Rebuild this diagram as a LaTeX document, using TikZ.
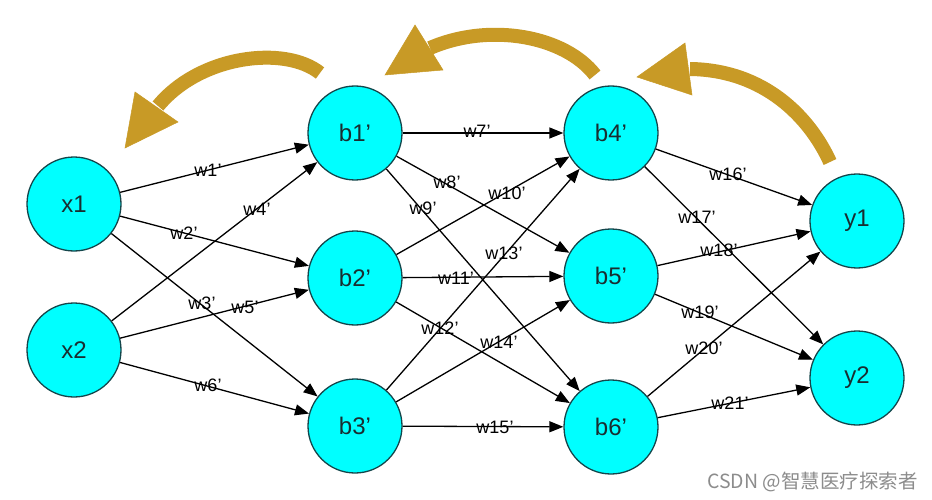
\documentclass[tikz,border=0pt]{standalone}
\usepackage{fontspec}
\setmainfont{Liberation Sans}
\newfontfamily\cjkfont{Noto Sans CJK SC}
\usetikzlibrary{arrows.meta}
\definecolor{nodefill}{RGB}{0,255,255}
\definecolor{nodeline}{RGB}{20,70,75}
\definecolor{nodetext}{RGB}{25,45,48}
\definecolor{gold}{RGB}{200,154,38}
\definecolor{wm}{RGB}{140,140,140}
\tikzset{
  neuron/.style={circle, draw=nodeline, fill=nodefill, line width=1.3pt,
    minimum size=94pt, inner sep=0pt, text=nodetext,
    font=\fontsize{24}{28}\selectfont},
  conn/.style={-{Triangle[length=14pt,width=11pt]}, line width=1.3pt, black},
  wlab/.style={font=\fontsize{18}{20}\selectfont, inner sep=0pt, text=black},
  bigarrow/.style={draw=gold, line width=14pt},
  bighead/.style={fill=gold, draw=gold, line width=0.5pt, line join=miter}
}
\begin{document}
\begin{tikzpicture}[x=1pt,y=-1pt]
\useasboundingbox (0,0) rectangle (932,500);
\fill[white] (0,0) rectangle (932,500);

% gold feedback arrows
\draw[bigarrow] (320,73) .. controls (285,45) and (200,55) .. (158,106);
\filldraw[bighead] (125,148) -- (135,92) -- (178,122) -- cycle;
\draw[bigarrow] (595,75) .. controls (565,36) and (490,22) .. (430,48);
\filldraw[bighead] (385,75) -- (415,25) -- (443,70) -- cycle;
\draw[bigarrow] (830,162) .. controls (810,118) and (765,70) .. (690,69);
\filldraw[bighead] (637,77) -- (685,43) -- (692,95) -- cycle;

% nodes
\node[neuron] (x1) at (74,204) {x1};
\node[neuron] (x2) at (74,350) {x2};
\node[neuron] (b1) at (355,133) {b1’};
\node[neuron] (b2) at (355,278) {b2’};
\node[neuron] (b3) at (355,426) {b3’};
\node[neuron] (b4) at (611,133) {b4’};
\node[neuron] (b5) at (611,276) {b5’};
\node[neuron] (b6) at (611,427) {b6’};
\node[neuron] (y1) at (857,221) {y1};
\node[neuron] (y2) at (857,378) {y2};

% connectors
\draw[conn] (x1) -- (b1);
\draw[conn] (x1) -- (b2);
\draw[conn] (x1) -- (b3);
\draw[conn] (x2) -- (b1);
\draw[conn] (x2) -- (b2);
\draw[conn] (x2) -- (b3);
\draw[conn] (b1) -- (b4);
\draw[conn] (b1) -- (b5);
\draw[conn] (b1) -- (b6);
\draw[conn] (b2) -- (b4);
\draw[conn] (b2) -- (b5);
\draw[conn] (b2) -- (b6);
\draw[conn] (b3) -- (b4);
\draw[conn] (b3) -- (b5);
\draw[conn] (b3) -- (b6);
\draw[conn] (b4) -- (y1);
\draw[conn] (b4) -- (y2);
\draw[conn] (b5) -- (y1);
\draw[conn] (b5) -- (y2);
\draw[conn] (b6) -- (y1);
\draw[conn] (b6) -- (y2);

% weight labels
\node[wlab] (w1) at (208,170) {w1’};
\node[wlab] (w2) at (184,233) {w2’};
\node[wlab] (w3) at (202,303) {w3’};
\node[wlab] (w4) at (257,209) {w4’};
\node[wlab] (w5) at (245,307) {w5’};
\node[wlab] (w6) at (208,385) {w6’};
\node[wlab] (w7) at (477,131) {w7’};
\node[wlab] (w8) at (447,182) {w8’};
\node[wlab] (w9) at (423,208) {w9’};
\node[wlab] (w10) at (507,193) {w10’};
\node[wlab] (w11) at (456,278) {w11’};
\node[wlab] (w12) at (440,328) {w12’};
\node[wlab] (w13) at (504,253) {w13’};
\node[wlab] (w14) at (499,342) {w14’};
\node[wlab] (w15) at (495,427) {w15’};
\node[wlab] (w16) at (728,174) {w16’};
\node[wlab] (w17) at (697,217) {w17’};
\node[wlab] (w18) at (719,250) {w18’};
\node[wlab] (w19) at (700,312) {w19’};
\node[wlab] (w20) at (704,348) {w20’};
\node[wlab] (w21) at (730,403) {w21’};

% watermark
\node[text=wm, font=\cjkfont\fontsize{19.5}{22}\selectfont, anchor=east, inner sep=0pt] (wmark) at (918,482) {CSDN @智慧医疗探索者};
\end{tikzpicture}
\end{document}
